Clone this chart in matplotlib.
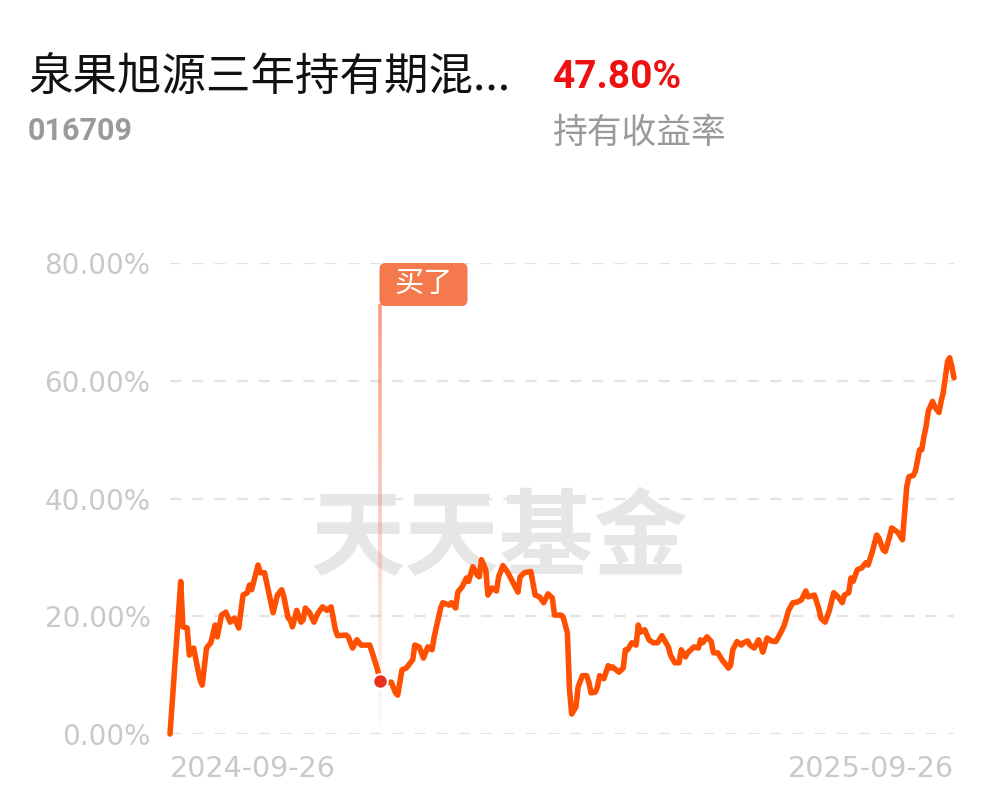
import numpy as np
import pandas as pd
import matplotlib
matplotlib.use("Agg")
import matplotlib.pyplot as plt
from matplotlib.collections import LineCollection
from matplotlib.patches import FancyBboxPatch
from matplotlib.transforms import ScaledTranslation

# calendar-day offsets from the start date, and cumulative return (%)
days = [0, 5, 6, 8, 9, 11, 13, 14, 15, 17, 19, 21, 22, 24, 26, 28, 30, 32, 34, 36,
        37, 38, 41, 42, 44, 46, 48, 50, 52, 53, 55, 56, 57, 59, 61, 62, 63, 65, 67, 69,
        71, 73, 75, 77, 78, 82, 83, 85, 87, 89, 91, 93, 96, 98, 100, 103, 105, 106, 108, 110,
        113, 114, 116, 118, 120, 121, 122, 123, 126, 127, 130, 131, 133, 134, 136, 138, 139, 141, 143, 144,
        145, 147, 148, 150, 152, 153, 155, 157, 159, 162, 163, 165, 168, 170, 172, 174, 176, 178, 179, 182,
        183, 185, 186, 187, 189, 190, 192, 194, 195, 196, 198, 199, 200, 202, 204, 205, 206, 209, 211, 212,
        213, 215, 217, 218, 219, 221, 223, 225, 227, 229, 232, 233, 235, 237, 238, 240, 241, 244, 246, 247,
        248, 250, 252, 253, 255, 257, 260, 261, 262, 264, 266, 267, 269, 270, 272, 274, 275, 276, 278, 280,
        282, 283, 285, 286, 288, 290, 292, 294, 296, 297, 300, 302, 303, 305, 307, 309, 311, 313, 314, 316,
        317, 318, 320, 322, 324, 325, 327, 329, 330, 332, 333, 335, 336, 339, 341, 342, 343, 344, 346, 347,
        349, 350, 351, 352, 353, 355, 356, 358, 359, 360, 362, 363, 364, 365]
returns = [0, 25.9, 18.2, 18.0, 13.4, 14.6, 10.9, 9.2, 8.3, 14.6, 15.5, 18.5, 16.5, 20.2, 20.7, 19.0, 19.7, 18.0, 23.6, 24.0,
           25.3, 24.5, 28.7, 27.4, 27.4, 24.0, 20.6, 23.6, 24.5, 23.3, 19.7, 19.4, 18.2, 21.0, 19.0, 19.4, 21.4, 20.6, 19.0, 20.6,
           21.6, 21.0, 21.6, 17.7, 16.7, 16.8, 16.5, 14.6, 16.0, 15.1, 15.1, 15.1, 11.7, 9.0, 8.7, 8.8, 7.0, 6.6, 10.9, 11.2,
           12.6, 15.1, 14.8, 12.9, 14.8, 14.6, 14.3, 16.5, 21.4, 22.3, 21.9, 22.3, 21.4, 24.1, 25.0, 26.5, 25.9, 28.4, 27.0, 26.7,
           29.6, 27.9, 23.6, 24.8, 24.3, 26.7, 28.6, 27.6, 26.2, 24.1, 26.7, 27.4, 27.6, 23.6, 23.3, 22.3, 23.8, 23.1, 20.2, 20.2,
           19.9, 17.2, 7.5, 3.4, 4.6, 8.0, 9.9, 9.9, 8.8, 7.0, 7.1, 8.0, 9.9, 9.4, 11.6, 11.2, 11.4, 10.5, 11.2, 14.3,
           14.3, 15.5, 15.1, 18.5, 17.3, 17.7, 16.0, 15.5, 15.5, 16.7, 14.8, 13.4, 12.1, 12.1, 14.3, 13.1, 13.8, 14.8, 14.6, 16.0,
           15.5, 16.5, 15.7, 13.8, 13.8, 12.6, 11.2, 11.7, 14.3, 15.7, 15.1, 15.5, 15.8, 15.1, 14.6, 16.0, 15.1, 13.9, 16.3, 15.8,
           15.7, 16.3, 17.7, 18.5, 21.0, 22.3, 22.4, 22.8, 24.3, 23.3, 23.6, 21.4, 19.7, 19.0, 21.0, 24.0, 23.3, 22.3, 23.6, 24.0,
           26.5, 25.9, 27.9, 28.2, 29.1, 28.7, 31.0, 33.8, 33.3, 31.3, 31.0, 33.5, 35.0, 34.2, 33.0, 37.6, 42.0, 43.7, 43.9, 44.6,
           48.3, 48.3, 50.5, 52.2, 54.8, 56.5, 55.6, 54.6, 56.5, 58.0, 63.3, 63.9, 62.4, 60.5]

start_date = "2024-09-26"
end_date = "2025-09-26"
buy_day = 98
yticks = [0, 20, 40, 60, 80]

fund_name = "泉果旭源三年持有期混..."
fund_code = "016709"
hold_return = "47.80%"
hold_label = "持有收益率"
buy_label = "买了"
watermark = "天天基金"

CJK = ["Noto Sans CJK SC", "DejaVu Sans"]
W, H = 997, 802
fig = plt.figure(figsize=(W / 100, H / 100), dpi=100)
fig.patch.set_facecolor("white")

# axes placed in pixel terms
l, r, b, t = 170, 954, 734, 263
ax = fig.add_axes([l / W, 1 - b / H, (r - l) / W, (b - t) / H])
ax.set_xlim(0, 365)
ax.set_ylim(0, 80)
for s in ax.spines.values():
    s.set_visible(False)
ax.set_xticks([])
ax.set_yticks(yticks)
ax.set_yticklabels([f"{v:.2f}%" for v in yticks], fontsize=20, color="#c9c9c9",
                   family="DejaVu Sans")
ax.tick_params(axis="y", length=0, pad=14)
for v in yticks:
    ax.axhline(v, color="#e3e3e3", lw=1.6, dashes=(5, 5), zorder=0)

# watermark
ax.text(0.42, 0.41, watermark, transform=ax.transAxes, ha="center", va="center",
        fontsize=68, fontweight="bold", color="#e6e6e6", family=CJK, zorder=0.5)

# buy marker: fading vertical line
buy_val = returns[days.index(buy_day)]
ys = np.linspace(73, 1.5, 80)
segs = [[(buy_day, ys[i]), (buy_day, ys[i + 1])] for i in range(len(ys) - 1)]
alphas = np.linspace(0.8, 0.04, len(segs))
cols = [(0.97, 0.52, 0.40, a) for a in alphas]
ax.add_collection(LineCollection(segs, colors=cols, linewidths=2.6, zorder=1))

ax.plot(days, returns, color="#ff4f00", lw=4.0, solid_joinstyle="round",
        solid_capstyle="round", clip_on=False, zorder=2)
ax.scatter([buy_day], [buy_val], s=110, color="#e8311d", edgecolors="white",
           linewidths=1.5, zorder=3)

# buy label box anchored at (buy_day, 80) in inch offsets
tr = fig.dpi_scale_trans + ScaledTranslation(buy_day, 80, ax.transData)
box = FancyBboxPatch((-0.01, -0.43), 0.88, 0.43, boxstyle="round,pad=0,rounding_size=0.06",
                     transform=tr, fc="#f47a4e", ec="none", zorder=4, clip_on=False)
ax.add_patch(box)
ax.text(0.43, -0.21, buy_label, transform=tr, ha="center", va="center", fontsize=21,
        color="white", family=CJK, zorder=5)

# date labels
ax.text(0, -0.075, start_date, transform=ax.transAxes, ha="left", va="center",
        fontsize=20.5, color="#c9c9c9")
ax.text(1, -0.075, end_date, transform=ax.transAxes, ha="right", va="center",
        fontsize=20.5, color="#c9c9c9")

# header
fig.text(28 / W, 1 - 77 / H, fund_name, ha="left", va="center", fontsize=32,
         color="#111111", family=CJK)
fig.text(553 / W, 1 - 78 / H, hold_return, ha="left", va="center", fontsize=28,
         fontweight="bold", color="#ee1111", family="Roboto")
fig.text(28 / W, 1 - 131 / H, fund_code, ha="left", va="center", fontsize=22,
         fontweight="bold", color="#9a9a9a", family="Roboto")
fig.text(553 / W, 1 - 133 / H, hold_label, ha="left", va="center", fontsize=25,
         color="#9a9a9a", family=CJK)

fig.savefig("out.png", dpi=100, facecolor="white")
